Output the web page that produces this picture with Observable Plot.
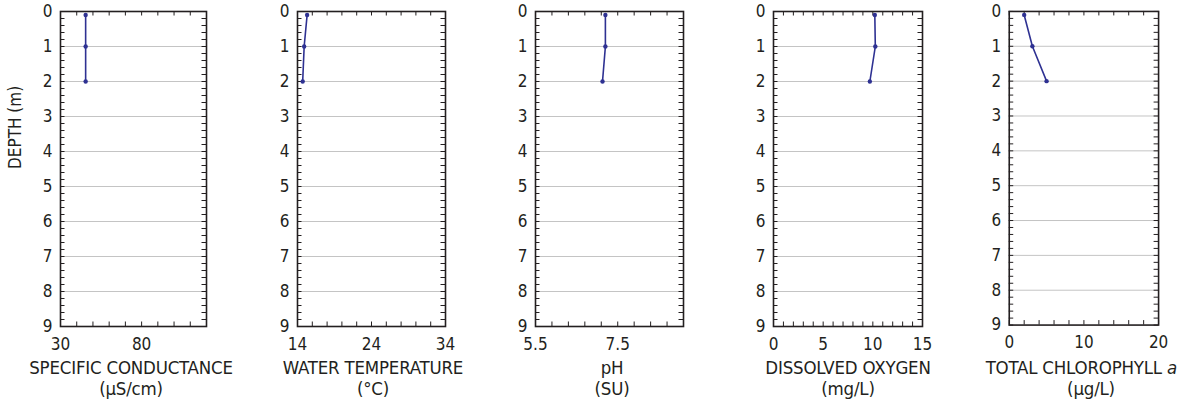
<!DOCTYPE html>
<html><head><meta charset="utf-8">
<script src="https://cdn.jsdelivr.net/npm/d3@7"></script>
<script src="https://cdn.jsdelivr.net/npm/@observablehq/plot@0.6"></script>
<style>
body{margin:0;background:#fff;}
#chart{position:relative;width:1178px;height:408px;overflow:hidden;font-family:"DejaVu Sans Condensed","Liberation Sans Narrow",sans-serif;color:#231f20;}
.panel{position:absolute;top:0;}
.title{position:absolute;font-size:18.5px;line-height:21px;letter-spacing:-0.2px;text-align:center;white-space:nowrap;transform:translateX(-50%);}
</style></head><body><div id="chart"></div>
<script>
// Data (depth in metres)
const depths = [0.1, 1, 2];
const specificConductance = [45.5, 45.5, 45.5];
const waterTemperature = [15.3, 14.9, 14.7];
const pH = [7.2, 7.2, 7.13];
const dissolvedOxygen = [10.2, 10.25, 9.7];
const totalChlorophyll = [2.0, 3.1, 5.0];

// Axis ticks
const depthLabels = [0, 1, 2, 3, 4, 5, 6, 7, 8, 9];
const gridDepths = [1, 2, 3, 4, 5, 6, 7, 8];
const depthMinorStep = 0.2;
const scDomain = [30, 120], scLabels = [30, 80], scStep = 10;
const tempDomain = [14, 34], tempLabels = [14, 24, 34], tempStep = 2;
const phDomain = [5.5, 9.1], phLabels = [5.5, 7.5], phStep = 0.4;
const doDomain = [0, 15], doLabels = [0, 5, 10, 15], doStep = 1;
const chlDomain = [0, 20], chlLabels = [0, 10, 20], chlStep = 2;

const panels = [
  {values: specificConductance, domain: scDomain, labels: scLabels, step: scStep, left: 60, right: 206, center: 131, t1: "SPECIFIC CONDUCTANCE", t2: "(µS/cm)", yTitle: "DEPTH (m)"},
  {values: waterTemperature, domain: tempDomain, labels: tempLabels, step: tempStep, left: 297, right: 445, center: 373, t1: "WATER TEMPERATURE", t2: "(°C)"},
  {values: pH, domain: phDomain, labels: phLabels, step: phStep, left: 535, right: 683, center: 612, t1: "pH", t2: "(SU)"},
  {values: dissolvedOxygen, domain: doDomain, labels: doLabels, step: doStep, left: 773, right: 922, center: 848, t1: "DISSOLVED OXYGEN", t2: "(mg/L)"},
  {values: totalChlorophyll, domain: chlDomain, labels: chlLabels, step: chlStep, left: 1009, right: 1159, center: 1091, t1: "TOTAL CHLOROPHYLL <i>a</i>", t2: "(µg/L)"}
];

const chart = document.getElementById("chart");
const mt = 11, mb = 34, H = 360, frameH = H - mt - mb;
const ink = "#231f20", lineColor = "#2e3192";
const yTicks = d3.range(0, 9 + 1e-9, depthMinorStep).map(d => +d.toFixed(2));

panels.forEach(p => {
  const ml = 60, mr = 20, W = p.right - p.left;
  const rows = depths.map((d, i) => ({depth: d, value: p.values[i]}));
  const n = Math.round((p.domain[1] - p.domain[0]) / p.step);
  const xTicks = d3.range(0, n + 1).map(i => +(p.domain[0] + i * p.step).toFixed(3));
  const marks = [
    Plot.ruleY(gridDepths, {y: d => d, stroke: "#c4c4c4", strokeWidth: 1}),
    Plot.tickY(yTicks, {y: d => d, stroke: ink, strokeWidth: 1, insetRight: W - 4.5}),
    Plot.tickY(yTicks, {y: d => d, stroke: ink, strokeWidth: 1, insetLeft: W - 4.5}),
    Plot.tickX(xTicks, {x: d => d, stroke: ink, strokeWidth: 1, insetBottom: frameH - 4.5}),
    Plot.tickX(xTicks, {x: d => d, stroke: ink, strokeWidth: 1, insetTop: frameH - 4.5}),
    Plot.line(rows, {x: "value", y: "depth", stroke: lineColor, strokeWidth: 1.6}),
    Plot.dot(rows, {x: "value", y: "depth", r: 2.2, fill: lineColor, stroke: "none"}),
    Plot.frame({stroke: ink, strokeWidth: 1.6}),
    Plot.axisX({ticks: p.labels, tickSize: 0, tickPadding: 11, fontSize: 17, label: null, tickFormat: d => String(d)}),
    Plot.axisY({ticks: depthLabels, tickSize: 0, tickPadding: 8, fontSize: 17, label: null})
  ];
  if (p.yTitle) marks.push(Plot.text([p.yTitle], {frameAnchor: "left", dx: -45, rotate: -90, fontSize: 17, fill: ink}));
  const svg = Plot.plot({
    width: W + ml + mr, height: H,
    marginLeft: ml, marginRight: mr, marginTop: mt, marginBottom: mb,
    x: {domain: p.domain, label: null},
    y: {domain: [0, 9], reverse: true, label: null},
    style: {fontFamily: '"DejaVu Sans Condensed","Liberation Sans Narrow",sans-serif', color: ink, background: "none", overflow: "visible"},
    marks
  });
  const div = document.createElement("div");
  div.className = "panel";
  div.style.left = (p.left - ml) + "px";
  div.appendChild(svg);
  chart.appendChild(div);
  [[p.t1, 357], [p.t2, 378]].forEach(([txt, top]) => {
    const t = document.createElement("div");
    t.className = "title";
    t.style.left = p.center + "px";
    t.style.top = top + "px";
    t.innerHTML = txt;
    chart.appendChild(t);
    const r = t.getBoundingClientRect();
    if (r.right > 1177) t.style.left = (p.center - (r.right - 1177)) + "px";
  });
});
</script></body></html>
